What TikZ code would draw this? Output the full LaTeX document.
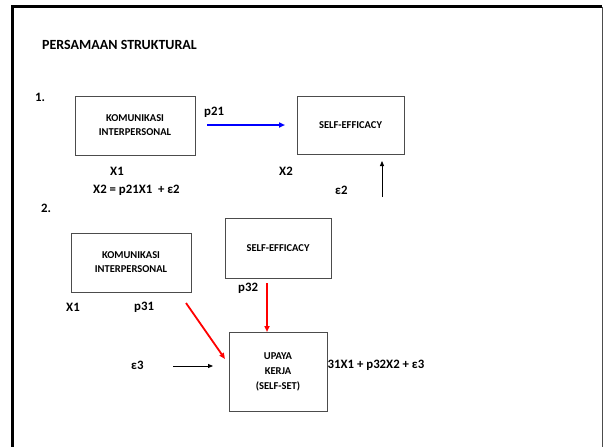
\documentclass[tikz,border=0pt]{standalone}
\usepackage{fontspec}
\setmainfont{Carlito}
\usetikzlibrary{arrows.meta}
\begin{document}
\begin{tikzpicture}[x=1pt,y=-1pt,
  every node/.style={font=\bfseries\fontsize{10.5}{12}\selectfont, inner sep=0pt},
  varbox/.style={draw=black!70, line width=0.7pt, fill=white, align=center, inner sep=0pt},
  lbl/.style={font=\bfseries\fontsize{12.8}{15}\selectfont, anchor=west},
  link/.style={line width=0.8pt, -{Triangle[length=5pt,width=4pt]}},
  path1/.style={line width=1.8pt, -{Triangle[length=6pt,width=5pt]}}]
\useasboundingbox (0,0) rectangle (603,447);
% slide frame
\draw[line width=2.6pt] (12.5,460) -- (12.5,6.5) -- (602,6.5);
\draw[black!70, line width=0.8pt] (602,6.5) -- (602,460);
\node[lbl, font=\bfseries\fontsize{14}{16}\selectfont] (title) at (42,45) {PERSAMAAN STRUKTURAL};

% equation 1
\node[lbl] (n1) at (35,97) {1.};
\node[varbox, minimum width=120pt, minimum height=59pt] (ki1) at (135,125.5) {KOMUNIKASI\\[2pt]INTERPERSONAL};
\node[varbox, minimum width=107pt, minimum height=58pt] (se1) at (350.5,125) {SELF-EFFICACY};
\node[lbl] (p21) at (204,112) {p21};
\coordinate (a1) at (207,125);
\coordinate (b1) at (285,125);
\draw[path1, blue] (a1) -- (b1);
\node[lbl] (x1a) at (110,171) {X1};
\node[lbl] (x2a) at (279,171) {X2};
\node[lbl] (eq1) at (93,190) {X2 = p21X1 \ + ε2};
\node[lbl] (e2) at (335,190) {ε2};
\coordinate (e2s) at (382,197);
\coordinate (e2t) at (382,161);
\draw[link] (e2s) -- (e2t);

% equation 2
\node[lbl] (n2) at (41,208) {2.};
\node[varbox, minimum width=120pt, minimum height=59pt] (ki2) at (131,262.5) {KOMUNIKASI\\[2pt]INTERPERSONAL};
\node[varbox, minimum width=106pt, minimum height=60pt] (se2) at (278,248) {SELF-EFFICACY};
\node[varbox, minimum width=98pt, minimum height=79pt] (uk) at (278,371.5) {UPAYA\\[3pt]KERJA\\[3pt](SELF-SET)};
\node[lbl] (p32) at (238,288) {p32};
\node[lbl] (x1b) at (66,307) {X1};
\node[lbl] (p31) at (134,307) {p31};
\coordinate (a3) at (186,303);
\coordinate (b3) at (225,359);
\draw[path1, red] (a3) -- (b3);
\coordinate (a4) at (267,283);
\coordinate (b4) at (267,332);
\draw[path1, red] (a4) -- (b4);
\node[lbl] (e3) at (131,365) {ε3};
\coordinate (e3s) at (173,366);
\coordinate (e3t) at (213,366);
\draw[link] (e3s) -- (e3t);
\node[lbl] (eq2) at (327.5,365) {31X1 + p32X2 + ε3};
\end{tikzpicture}
\end{document}
